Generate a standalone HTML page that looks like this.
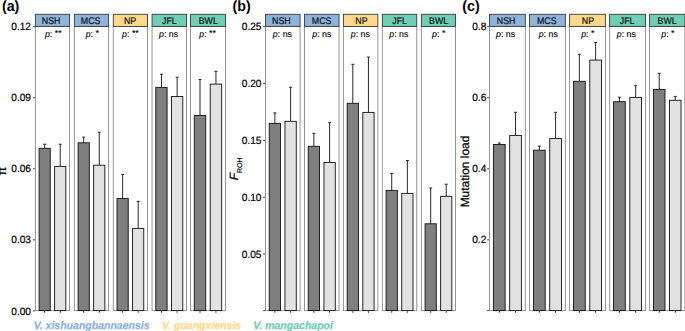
<!DOCTYPE html>
<html><head><meta charset="utf-8"><style>html,body{margin:0;padding:0;background:#fff;}body{width:685px;height:331px;overflow:hidden;}svg{display:block;}</style></head><body>
<svg width="685" height="331" viewBox="0 0 685 331" font-family='&quot;Liberation Sans&quot;, sans-serif' text-rendering="geometricPrecision">
<rect x="0" y="0" width="685" height="331" fill="#fff"/>
<text transform="translate(1.9,10.7) scale(0.95,1)" font-size="15" font-weight="bold" fill="#000">(a)</text>
<line x1="32.9" y1="26.7" x2="35.3" y2="26.7" stroke="#333" stroke-width="0.9"/>
<text transform="translate(31,30.3) scale(0.965,1)" font-size="10.5" text-anchor="end" fill="#000" stroke="#000" stroke-width="0.2">0.12</text>
<line x1="32.9" y1="97.75" x2="35.3" y2="97.75" stroke="#333" stroke-width="0.9"/>
<text transform="translate(31,101.35) scale(0.965,1)" font-size="10.5" text-anchor="end" fill="#000" stroke="#000" stroke-width="0.2">0.09</text>
<line x1="32.9" y1="168.8" x2="35.3" y2="168.8" stroke="#333" stroke-width="0.9"/>
<text transform="translate(31,172.4) scale(0.965,1)" font-size="10.5" text-anchor="end" fill="#000" stroke="#000" stroke-width="0.2">0.06</text>
<line x1="32.9" y1="239.85" x2="35.3" y2="239.85" stroke="#333" stroke-width="0.9"/>
<text transform="translate(31,243.45) scale(0.965,1)" font-size="10.5" text-anchor="end" fill="#000" stroke="#000" stroke-width="0.2">0.03</text>
<line x1="32.9" y1="310.9" x2="35.3" y2="310.9" stroke="#333" stroke-width="0.9"/>
<text transform="translate(31,314.5) scale(0.965,1)" font-size="10.5" text-anchor="end" fill="#000" stroke="#000" stroke-width="0.2">0.00</text>
<rect x="35.35" y="26.4" width="34.2" height="284.2" fill="#fff" stroke="#8a8a8a" stroke-width="0.9"/>
<line x1="44.68" y1="144.2" x2="44.68" y2="148.3" stroke="#111" stroke-width="0.9"/>
<line x1="43.18" y1="144.2" x2="46.18" y2="144.2" stroke="#111" stroke-width="0.9"/>
<rect x="39.08" y="148.3" width="11.19" height="162.3" fill="#7f7f7f" stroke="#111" stroke-width="0.9"/>
<line x1="44.68" y1="310.6" x2="44.68" y2="313" stroke="#333" stroke-width="0.8"/>
<line x1="60.22" y1="144.2" x2="60.22" y2="166.4" stroke="#111" stroke-width="0.9"/>
<line x1="58.72" y1="144.2" x2="61.72" y2="144.2" stroke="#111" stroke-width="0.9"/>
<rect x="54.63" y="166.4" width="11.19" height="144.2" fill="#e2e2e2" stroke="#111" stroke-width="0.9"/>
<line x1="60.22" y1="310.6" x2="60.22" y2="313" stroke="#333" stroke-width="0.8"/>
<rect x="35.35" y="14.3" width="34.2" height="12.1" fill="#8eb4dc" stroke="#3a3a3a" stroke-width="0.9"/>
<text transform="translate(51.15,24.2) scale(0.92,1)" font-size="9.6" text-anchor="middle" fill="#111" stroke="#111" stroke-width="0.22">NSH</text>
<text x="53.25" y="37" font-size="8.8" text-anchor="middle" fill="#000" stroke="#000" stroke-width="0.12"><tspan font-style="italic">p</tspan>: <tspan dy="-0.9">**</tspan></text>
<rect x="74.35" y="26.4" width="34.25" height="284.2" fill="#fff" stroke="#8a8a8a" stroke-width="0.9"/>
<line x1="83.69" y1="137.1" x2="83.69" y2="142.8" stroke="#111" stroke-width="0.9"/>
<line x1="82.19" y1="137.1" x2="85.19" y2="137.1" stroke="#111" stroke-width="0.9"/>
<rect x="78.09" y="142.8" width="11.21" height="167.8" fill="#7f7f7f" stroke="#111" stroke-width="0.9"/>
<line x1="83.69" y1="310.6" x2="83.69" y2="313" stroke="#333" stroke-width="0.8"/>
<line x1="99.26" y1="132.2" x2="99.26" y2="165.2" stroke="#111" stroke-width="0.9"/>
<line x1="97.76" y1="132.2" x2="100.76" y2="132.2" stroke="#111" stroke-width="0.9"/>
<rect x="93.65" y="165.2" width="11.21" height="145.4" fill="#e2e2e2" stroke="#111" stroke-width="0.9"/>
<line x1="99.26" y1="310.6" x2="99.26" y2="313" stroke="#333" stroke-width="0.8"/>
<rect x="74.35" y="14.3" width="34.25" height="12.1" fill="#8eb4dc" stroke="#3a3a3a" stroke-width="0.9"/>
<text transform="translate(90.65,24.2) scale(0.92,1)" font-size="9.6" text-anchor="middle" fill="#111" stroke="#111" stroke-width="0.22">MCS</text>
<text x="92.25" y="37" font-size="8.8" text-anchor="middle" fill="#000" stroke="#000" stroke-width="0.12"><tspan font-style="italic">p</tspan>: <tspan dy="-0.9">*</tspan></text>
<rect x="113.3" y="26.4" width="34.2" height="284.2" fill="#fff" stroke="#8a8a8a" stroke-width="0.9"/>
<line x1="122.63" y1="174.4" x2="122.63" y2="198.4" stroke="#111" stroke-width="0.9"/>
<line x1="121.13" y1="174.4" x2="124.13" y2="174.4" stroke="#111" stroke-width="0.9"/>
<rect x="117.03" y="198.4" width="11.19" height="112.2" fill="#7f7f7f" stroke="#111" stroke-width="0.9"/>
<line x1="122.63" y1="310.6" x2="122.63" y2="313" stroke="#333" stroke-width="0.8"/>
<line x1="138.17" y1="201.4" x2="138.17" y2="228.4" stroke="#111" stroke-width="0.9"/>
<line x1="136.67" y1="201.4" x2="139.67" y2="201.4" stroke="#111" stroke-width="0.9"/>
<rect x="132.58" y="228.4" width="11.19" height="82.2" fill="#e2e2e2" stroke="#111" stroke-width="0.9"/>
<line x1="138.17" y1="310.6" x2="138.17" y2="313" stroke="#333" stroke-width="0.8"/>
<rect x="113.3" y="14.3" width="34.2" height="12.1" fill="#ffd98a" stroke="#3a3a3a" stroke-width="0.9"/>
<text transform="translate(130.05,24.2) scale(0.92,1)" font-size="9.6" text-anchor="middle" fill="#111" stroke="#111" stroke-width="0.22">NP</text>
<text x="130.45" y="37" font-size="8.8" text-anchor="middle" fill="#000" stroke="#000" stroke-width="0.12"><tspan font-style="italic">p</tspan>: <tspan dy="-0.9">**</tspan></text>
<rect x="152.05" y="26.4" width="34.5" height="284.2" fill="#fff" stroke="#8a8a8a" stroke-width="0.9"/>
<line x1="161.46" y1="74.2" x2="161.46" y2="87.4" stroke="#111" stroke-width="0.9"/>
<line x1="159.96" y1="74.2" x2="162.96" y2="74.2" stroke="#111" stroke-width="0.9"/>
<rect x="155.81" y="87.4" width="11.29" height="223.2" fill="#7f7f7f" stroke="#111" stroke-width="0.9"/>
<line x1="161.46" y1="310.6" x2="161.46" y2="313" stroke="#333" stroke-width="0.8"/>
<line x1="177.14" y1="77.2" x2="177.14" y2="96.5" stroke="#111" stroke-width="0.9"/>
<line x1="175.64" y1="77.2" x2="178.64" y2="77.2" stroke="#111" stroke-width="0.9"/>
<rect x="171.5" y="96.5" width="11.29" height="214.1" fill="#e2e2e2" stroke="#111" stroke-width="0.9"/>
<line x1="177.14" y1="310.6" x2="177.14" y2="313" stroke="#333" stroke-width="0.8"/>
<rect x="152.05" y="14.3" width="34.5" height="12.1" fill="#6dcfb6" stroke="#3a3a3a" stroke-width="0.9"/>
<text transform="translate(169.35,24.2) scale(0.92,1)" font-size="9.6" text-anchor="middle" fill="#111" stroke="#111" stroke-width="0.22">JFL</text>
<text x="168.55" y="37" font-size="8.8" text-anchor="middle" fill="#000" stroke="#000" stroke-width="0.12"><tspan font-style="italic">p</tspan>: ns</text>
<rect x="190.45" y="26.4" width="35.05" height="284.2" fill="#fff" stroke="#8a8a8a" stroke-width="0.9"/>
<line x1="200.01" y1="79.5" x2="200.01" y2="115.5" stroke="#111" stroke-width="0.9"/>
<line x1="198.51" y1="79.5" x2="201.51" y2="79.5" stroke="#111" stroke-width="0.9"/>
<rect x="194.27" y="115.5" width="11.47" height="195.1" fill="#7f7f7f" stroke="#111" stroke-width="0.9"/>
<line x1="200.01" y1="310.6" x2="200.01" y2="313" stroke="#333" stroke-width="0.8"/>
<line x1="215.94" y1="71.3" x2="215.94" y2="84.1" stroke="#111" stroke-width="0.9"/>
<line x1="214.44" y1="71.3" x2="217.44" y2="71.3" stroke="#111" stroke-width="0.9"/>
<rect x="210.21" y="84.1" width="11.47" height="226.5" fill="#e2e2e2" stroke="#111" stroke-width="0.9"/>
<line x1="215.94" y1="310.6" x2="215.94" y2="313" stroke="#333" stroke-width="0.8"/>
<rect x="190.45" y="14.3" width="35.05" height="12.1" fill="#6dcfb6" stroke="#3a3a3a" stroke-width="0.9"/>
<text transform="translate(208.25,24.2) scale(0.92,1)" font-size="9.6" text-anchor="middle" fill="#111" stroke="#111" stroke-width="0.22">BWL</text>
<text x="207.55" y="37" font-size="8.8" text-anchor="middle" fill="#000" stroke="#000" stroke-width="0.12"><tspan font-style="italic">p</tspan>: <tspan dy="-0.9">**</tspan></text>
<text transform="translate(232.5,10.7) scale(0.95,1)" font-size="15" font-weight="bold" fill="#000">(b)</text>
<line x1="263" y1="26.7" x2="265.4" y2="26.7" stroke="#333" stroke-width="0.9"/>
<text transform="translate(261.5,30.3) scale(0.965,1)" font-size="10.5" text-anchor="end" fill="#000" stroke="#000" stroke-width="0.2">0.25</text>
<line x1="263" y1="83.54" x2="265.4" y2="83.54" stroke="#333" stroke-width="0.9"/>
<text transform="translate(261.5,87.14) scale(0.965,1)" font-size="10.5" text-anchor="end" fill="#000" stroke="#000" stroke-width="0.2">0.20</text>
<line x1="263" y1="140.38" x2="265.4" y2="140.38" stroke="#333" stroke-width="0.9"/>
<text transform="translate(261.5,143.98) scale(0.965,1)" font-size="10.5" text-anchor="end" fill="#000" stroke="#000" stroke-width="0.2">0.15</text>
<line x1="263" y1="197.22" x2="265.4" y2="197.22" stroke="#333" stroke-width="0.9"/>
<text transform="translate(261.5,200.82) scale(0.965,1)" font-size="10.5" text-anchor="end" fill="#000" stroke="#000" stroke-width="0.2">0.10</text>
<line x1="263" y1="254.06" x2="265.4" y2="254.06" stroke="#333" stroke-width="0.9"/>
<text transform="translate(261.5,257.66) scale(0.965,1)" font-size="10.5" text-anchor="end" fill="#000" stroke="#000" stroke-width="0.2">0.05</text>
<line x1="263" y1="310.6" x2="265.4" y2="310.6" stroke="#333" stroke-width="0.9"/>
<rect x="265.45" y="26.4" width="34.6" height="284.2" fill="#fff" stroke="#8a8a8a" stroke-width="0.9"/>
<line x1="274.89" y1="112.9" x2="274.89" y2="123.4" stroke="#111" stroke-width="0.9"/>
<line x1="273.39" y1="112.9" x2="276.39" y2="112.9" stroke="#111" stroke-width="0.9"/>
<rect x="269.22" y="123.4" width="11.32" height="187.2" fill="#7f7f7f" stroke="#111" stroke-width="0.9"/>
<line x1="274.89" y1="310.6" x2="274.89" y2="313" stroke="#333" stroke-width="0.8"/>
<line x1="290.61" y1="87.3" x2="290.61" y2="121.3" stroke="#111" stroke-width="0.9"/>
<line x1="289.11" y1="87.3" x2="292.11" y2="87.3" stroke="#111" stroke-width="0.9"/>
<rect x="284.95" y="121.3" width="11.32" height="189.3" fill="#e2e2e2" stroke="#111" stroke-width="0.9"/>
<line x1="290.61" y1="310.6" x2="290.61" y2="313" stroke="#333" stroke-width="0.8"/>
<rect x="265.45" y="14.3" width="34.6" height="12.1" fill="#8eb4dc" stroke="#3a3a3a" stroke-width="0.9"/>
<text transform="translate(281.4,24.2) scale(0.92,1)" font-size="9.6" text-anchor="middle" fill="#111" stroke="#111" stroke-width="0.22">NSH</text>
<text x="282.4" y="37" font-size="8.8" text-anchor="middle" fill="#000" stroke="#000" stroke-width="0.12"><tspan font-style="italic">p</tspan>: ns</text>
<rect x="304.45" y="26.4" width="34.6" height="284.2" fill="#fff" stroke="#8a8a8a" stroke-width="0.9"/>
<line x1="313.89" y1="133.3" x2="313.89" y2="146.3" stroke="#111" stroke-width="0.9"/>
<line x1="312.39" y1="133.3" x2="315.39" y2="133.3" stroke="#111" stroke-width="0.9"/>
<rect x="308.22" y="146.3" width="11.32" height="164.3" fill="#7f7f7f" stroke="#111" stroke-width="0.9"/>
<line x1="313.89" y1="310.6" x2="313.89" y2="313" stroke="#333" stroke-width="0.8"/>
<line x1="329.61" y1="122.7" x2="329.61" y2="162.4" stroke="#111" stroke-width="0.9"/>
<line x1="328.11" y1="122.7" x2="331.11" y2="122.7" stroke="#111" stroke-width="0.9"/>
<rect x="323.95" y="162.4" width="11.32" height="148.2" fill="#e2e2e2" stroke="#111" stroke-width="0.9"/>
<line x1="329.61" y1="310.6" x2="329.61" y2="313" stroke="#333" stroke-width="0.8"/>
<rect x="304.45" y="14.3" width="34.6" height="12.1" fill="#8eb4dc" stroke="#3a3a3a" stroke-width="0.9"/>
<text transform="translate(321.6,24.2) scale(0.92,1)" font-size="9.6" text-anchor="middle" fill="#111" stroke="#111" stroke-width="0.22">MCS</text>
<text x="321.8" y="37" font-size="8.8" text-anchor="middle" fill="#000" stroke="#000" stroke-width="0.12"><tspan font-style="italic">p</tspan>: ns</text>
<rect x="343.4" y="26.4" width="34.45" height="284.2" fill="#fff" stroke="#8a8a8a" stroke-width="0.9"/>
<line x1="352.8" y1="64.3" x2="352.8" y2="103.3" stroke="#111" stroke-width="0.9"/>
<line x1="351.3" y1="64.3" x2="354.3" y2="64.3" stroke="#111" stroke-width="0.9"/>
<rect x="347.16" y="103.3" width="11.27" height="207.3" fill="#7f7f7f" stroke="#111" stroke-width="0.9"/>
<line x1="352.8" y1="310.6" x2="352.8" y2="313" stroke="#333" stroke-width="0.8"/>
<line x1="368.45" y1="57.05" x2="368.45" y2="112.4" stroke="#111" stroke-width="0.9"/>
<line x1="366.95" y1="57.05" x2="369.95" y2="57.05" stroke="#111" stroke-width="0.9"/>
<rect x="362.82" y="112.4" width="11.27" height="198.2" fill="#e2e2e2" stroke="#111" stroke-width="0.9"/>
<line x1="368.45" y1="310.6" x2="368.45" y2="313" stroke="#333" stroke-width="0.8"/>
<rect x="343.4" y="14.3" width="34.45" height="12.1" fill="#ffd98a" stroke="#3a3a3a" stroke-width="0.9"/>
<text transform="translate(361.4,24.2) scale(0.92,1)" font-size="9.6" text-anchor="middle" fill="#111" stroke="#111" stroke-width="0.22">NP</text>
<text x="360.3" y="37" font-size="8.8" text-anchor="middle" fill="#000" stroke="#000" stroke-width="0.12"><tspan font-style="italic">p</tspan>: ns</text>
<rect x="382.35" y="26.4" width="34.4" height="284.2" fill="#fff" stroke="#8a8a8a" stroke-width="0.9"/>
<line x1="391.73" y1="173.5" x2="391.73" y2="190.4" stroke="#111" stroke-width="0.9"/>
<line x1="390.23" y1="173.5" x2="393.23" y2="173.5" stroke="#111" stroke-width="0.9"/>
<rect x="386.1" y="190.4" width="11.26" height="120.2" fill="#7f7f7f" stroke="#111" stroke-width="0.9"/>
<line x1="391.73" y1="310.6" x2="391.73" y2="313" stroke="#333" stroke-width="0.8"/>
<line x1="407.37" y1="160.5" x2="407.37" y2="193.4" stroke="#111" stroke-width="0.9"/>
<line x1="405.87" y1="160.5" x2="408.87" y2="160.5" stroke="#111" stroke-width="0.9"/>
<rect x="401.74" y="193.4" width="11.26" height="117.2" fill="#e2e2e2" stroke="#111" stroke-width="0.9"/>
<line x1="407.37" y1="310.6" x2="407.37" y2="313" stroke="#333" stroke-width="0.8"/>
<rect x="382.35" y="14.3" width="34.4" height="12.1" fill="#6dcfb6" stroke="#3a3a3a" stroke-width="0.9"/>
<text transform="translate(399.6,24.2) scale(0.92,1)" font-size="9.6" text-anchor="middle" fill="#111" stroke="#111" stroke-width="0.22">JFL</text>
<text x="398.8" y="37" font-size="8.8" text-anchor="middle" fill="#000" stroke="#000" stroke-width="0.12"><tspan font-style="italic">p</tspan>: ns</text>
<rect x="421.35" y="26.4" width="34.2" height="284.2" fill="#fff" stroke="#8a8a8a" stroke-width="0.9"/>
<line x1="430.68" y1="188" x2="430.68" y2="223.8" stroke="#111" stroke-width="0.9"/>
<line x1="429.18" y1="188" x2="432.18" y2="188" stroke="#111" stroke-width="0.9"/>
<rect x="425.08" y="223.8" width="11.19" height="86.8" fill="#7f7f7f" stroke="#111" stroke-width="0.9"/>
<line x1="430.68" y1="310.6" x2="430.68" y2="313" stroke="#333" stroke-width="0.8"/>
<line x1="446.22" y1="184.2" x2="446.22" y2="196.3" stroke="#111" stroke-width="0.9"/>
<line x1="444.72" y1="184.2" x2="447.72" y2="184.2" stroke="#111" stroke-width="0.9"/>
<rect x="440.63" y="196.3" width="11.19" height="114.3" fill="#e2e2e2" stroke="#111" stroke-width="0.9"/>
<line x1="446.22" y1="310.6" x2="446.22" y2="313" stroke="#333" stroke-width="0.8"/>
<rect x="421.35" y="14.3" width="34.2" height="12.1" fill="#6dcfb6" stroke="#3a3a3a" stroke-width="0.9"/>
<text transform="translate(438.6,24.2) scale(0.92,1)" font-size="9.6" text-anchor="middle" fill="#111" stroke="#111" stroke-width="0.22">BWL</text>
<text x="438.7" y="37" font-size="8.8" text-anchor="middle" fill="#000" stroke="#000" stroke-width="0.12"><tspan font-style="italic">p</tspan>: <tspan dy="-0.9">*</tspan></text>
<text transform="translate(462.3,10.7) scale(0.95,1)" font-size="15" font-weight="bold" fill="#000">(c)</text>
<line x1="487.1" y1="26.7" x2="489.5" y2="26.7" stroke="#333" stroke-width="0.9"/>
<text transform="translate(486.3,30.3) scale(0.965,1)" font-size="10.5" text-anchor="end" fill="#000" stroke="#000" stroke-width="0.2">0.8</text>
<line x1="487.1" y1="97.75" x2="489.5" y2="97.75" stroke="#333" stroke-width="0.9"/>
<text transform="translate(486.3,101.35) scale(0.965,1)" font-size="10.5" text-anchor="end" fill="#000" stroke="#000" stroke-width="0.2">0.6</text>
<line x1="487.1" y1="168.8" x2="489.5" y2="168.8" stroke="#333" stroke-width="0.9"/>
<text transform="translate(486.3,172.4) scale(0.965,1)" font-size="10.5" text-anchor="end" fill="#000" stroke="#000" stroke-width="0.2">0.4</text>
<line x1="487.1" y1="239.85" x2="489.5" y2="239.85" stroke="#333" stroke-width="0.9"/>
<text transform="translate(486.3,243.45) scale(0.965,1)" font-size="10.5" text-anchor="end" fill="#000" stroke="#000" stroke-width="0.2">0.2</text>
<line x1="487.1" y1="310.6" x2="489.5" y2="310.6" stroke="#333" stroke-width="0.9"/>
<rect x="489.5" y="26.4" width="35.8" height="284.2" fill="#fff" stroke="#8a8a8a" stroke-width="0.9"/>
<line x1="499.26" y1="143" x2="499.26" y2="144.5" stroke="#111" stroke-width="0.9"/>
<line x1="497.76" y1="143" x2="500.76" y2="143" stroke="#111" stroke-width="0.9"/>
<rect x="493.41" y="144.5" width="11.72" height="166.1" fill="#7f7f7f" stroke="#111" stroke-width="0.9"/>
<line x1="499.26" y1="310.6" x2="499.26" y2="313" stroke="#333" stroke-width="0.8"/>
<line x1="515.54" y1="112.3" x2="515.54" y2="135.4" stroke="#111" stroke-width="0.9"/>
<line x1="514.04" y1="112.3" x2="517.04" y2="112.3" stroke="#111" stroke-width="0.9"/>
<rect x="509.68" y="135.4" width="11.72" height="175.2" fill="#e2e2e2" stroke="#111" stroke-width="0.9"/>
<line x1="515.54" y1="310.6" x2="515.54" y2="313" stroke="#333" stroke-width="0.8"/>
<rect x="489.5" y="14.3" width="35.8" height="12.1" fill="#8eb4dc" stroke="#3a3a3a" stroke-width="0.9"/>
<text transform="translate(506.1,24.2) scale(0.92,1)" font-size="9.6" text-anchor="middle" fill="#111" stroke="#111" stroke-width="0.22">NSH</text>
<text x="505.6" y="37" font-size="8.8" text-anchor="middle" fill="#000" stroke="#000" stroke-width="0.12"><tspan font-style="italic">p</tspan>: ns</text>
<rect x="529.55" y="26.4" width="35.8" height="284.2" fill="#fff" stroke="#8a8a8a" stroke-width="0.9"/>
<line x1="539.31" y1="146.1" x2="539.31" y2="150.2" stroke="#111" stroke-width="0.9"/>
<line x1="537.81" y1="146.1" x2="540.81" y2="146.1" stroke="#111" stroke-width="0.9"/>
<rect x="533.46" y="150.2" width="11.72" height="160.4" fill="#7f7f7f" stroke="#111" stroke-width="0.9"/>
<line x1="539.31" y1="310.6" x2="539.31" y2="313" stroke="#333" stroke-width="0.8"/>
<line x1="555.59" y1="112.3" x2="555.59" y2="138.6" stroke="#111" stroke-width="0.9"/>
<line x1="554.09" y1="112.3" x2="557.09" y2="112.3" stroke="#111" stroke-width="0.9"/>
<rect x="549.73" y="138.6" width="11.72" height="172" fill="#e2e2e2" stroke="#111" stroke-width="0.9"/>
<line x1="555.59" y1="310.6" x2="555.59" y2="313" stroke="#333" stroke-width="0.8"/>
<rect x="529.55" y="14.3" width="35.8" height="12.1" fill="#8eb4dc" stroke="#3a3a3a" stroke-width="0.9"/>
<text transform="translate(546.75,24.2) scale(0.92,1)" font-size="9.6" text-anchor="middle" fill="#111" stroke="#111" stroke-width="0.22">MCS</text>
<text x="548.25" y="37" font-size="8.8" text-anchor="middle" fill="#000" stroke="#000" stroke-width="0.12"><tspan font-style="italic">p</tspan>: ns</text>
<rect x="569.6" y="26.4" width="35.8" height="284.2" fill="#fff" stroke="#8a8a8a" stroke-width="0.9"/>
<line x1="579.36" y1="54.3" x2="579.36" y2="81.3" stroke="#111" stroke-width="0.9"/>
<line x1="577.86" y1="54.3" x2="580.86" y2="54.3" stroke="#111" stroke-width="0.9"/>
<rect x="573.51" y="81.3" width="11.72" height="229.3" fill="#7f7f7f" stroke="#111" stroke-width="0.9"/>
<line x1="579.36" y1="310.6" x2="579.36" y2="313" stroke="#333" stroke-width="0.8"/>
<line x1="595.64" y1="42.5" x2="595.64" y2="60.1" stroke="#111" stroke-width="0.9"/>
<line x1="594.14" y1="42.5" x2="597.14" y2="42.5" stroke="#111" stroke-width="0.9"/>
<rect x="589.78" y="60.1" width="11.72" height="250.5" fill="#e2e2e2" stroke="#111" stroke-width="0.9"/>
<line x1="595.64" y1="310.6" x2="595.64" y2="313" stroke="#333" stroke-width="0.8"/>
<rect x="569.6" y="14.3" width="35.8" height="12.1" fill="#ffd98a" stroke="#3a3a3a" stroke-width="0.9"/>
<text transform="translate(587.9,24.2) scale(0.92,1)" font-size="9.6" text-anchor="middle" fill="#111" stroke="#111" stroke-width="0.22">NP</text>
<text x="587.8" y="37" font-size="8.8" text-anchor="middle" fill="#000" stroke="#000" stroke-width="0.12"><tspan font-style="italic">p</tspan>: <tspan dy="-0.9">*</tspan></text>
<rect x="609.65" y="26.4" width="35.8" height="284.2" fill="#fff" stroke="#8a8a8a" stroke-width="0.9"/>
<line x1="619.41" y1="97.2" x2="619.41" y2="101.7" stroke="#111" stroke-width="0.9"/>
<line x1="617.91" y1="97.2" x2="620.91" y2="97.2" stroke="#111" stroke-width="0.9"/>
<rect x="613.56" y="101.7" width="11.72" height="208.9" fill="#7f7f7f" stroke="#111" stroke-width="0.9"/>
<line x1="619.41" y1="310.6" x2="619.41" y2="313" stroke="#333" stroke-width="0.8"/>
<line x1="635.69" y1="85.7" x2="635.69" y2="97.4" stroke="#111" stroke-width="0.9"/>
<line x1="634.19" y1="85.7" x2="637.19" y2="85.7" stroke="#111" stroke-width="0.9"/>
<rect x="629.83" y="97.4" width="11.72" height="213.2" fill="#e2e2e2" stroke="#111" stroke-width="0.9"/>
<line x1="635.69" y1="310.6" x2="635.69" y2="313" stroke="#333" stroke-width="0.8"/>
<rect x="609.65" y="14.3" width="35.8" height="12.1" fill="#6dcfb6" stroke="#3a3a3a" stroke-width="0.9"/>
<text transform="translate(627.1,24.2) scale(0.92,1)" font-size="9.6" text-anchor="middle" fill="#111" stroke="#111" stroke-width="0.22">JFL</text>
<text x="626.35" y="37" font-size="8.8" text-anchor="middle" fill="#000" stroke="#000" stroke-width="0.12"><tspan font-style="italic">p</tspan>: ns</text>
<rect x="649.6" y="26.4" width="35.25" height="284.2" fill="#fff" stroke="#8a8a8a" stroke-width="0.9"/>
<line x1="659.21" y1="73.3" x2="659.21" y2="89.4" stroke="#111" stroke-width="0.9"/>
<line x1="657.71" y1="73.3" x2="660.71" y2="73.3" stroke="#111" stroke-width="0.9"/>
<rect x="653.45" y="89.4" width="11.54" height="221.2" fill="#7f7f7f" stroke="#111" stroke-width="0.9"/>
<line x1="659.21" y1="310.6" x2="659.21" y2="313" stroke="#333" stroke-width="0.8"/>
<line x1="675.24" y1="96.4" x2="675.24" y2="100.3" stroke="#111" stroke-width="0.9"/>
<line x1="673.74" y1="96.4" x2="676.74" y2="96.4" stroke="#111" stroke-width="0.9"/>
<rect x="669.47" y="100.3" width="11.54" height="210.3" fill="#e2e2e2" stroke="#111" stroke-width="0.9"/>
<line x1="675.24" y1="310.6" x2="675.24" y2="313" stroke="#333" stroke-width="0.8"/>
<rect x="649.6" y="14.3" width="35.25" height="12.1" fill="#6dcfb6" stroke="#3a3a3a" stroke-width="0.9"/>
<text transform="translate(667.1,24.2) scale(0.92,1)" font-size="9.6" text-anchor="middle" fill="#111" stroke="#111" stroke-width="0.22">BWL</text>
<text x="667.9" y="37" font-size="8.8" text-anchor="middle" fill="#000" stroke="#000" stroke-width="0.12"><tspan font-style="italic">p</tspan>: <tspan dy="-0.9">*</tspan></text>
<text transform="translate(6.3,171.1) rotate(-90)" font-size="12.5" text-anchor="middle" fill="#000" stroke="#000" stroke-width="0.3">&#960;</text>
<text transform="translate(238,168.9) rotate(-90)" font-size="12" text-anchor="middle" fill="#000" stroke="#000" stroke-width="0.2"><tspan font-style="italic">F</tspan><tspan font-size="7" dy="3.9">ROH</tspan></text>
<text transform="translate(469.2,171.5) rotate(-90)" font-size="11.95" text-anchor="middle" fill="#000" stroke="#000" stroke-width="0.25">Mutation load</text>
<text transform="translate(33.7,328.9) scale(0.965,1)" font-size="10.9" font-weight="bold" font-style="italic" fill="#8eb4dc" stroke="#8eb4dc" stroke-width="0.25">V. xishuangbannaensis</text>
<text transform="translate(162.1,328.9) scale(0.965,1)" font-size="10.9" font-weight="bold" font-style="italic" fill="#ffd98a" stroke="#ffd98a" stroke-width="0.25">V. guangxiensis</text>
<text transform="translate(253.3,328.9) scale(0.965,1)" font-size="10.9" font-weight="bold" font-style="italic" fill="#6dcfb6" stroke="#6dcfb6" stroke-width="0.25">V. mangachapoi</text>
</svg>
</body></html>
